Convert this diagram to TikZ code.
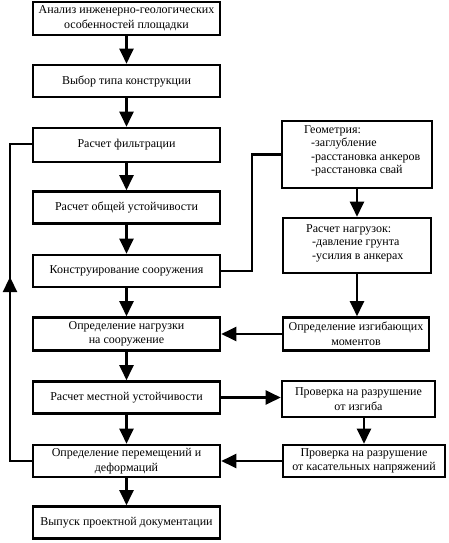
\documentclass[tikz,border=0pt]{standalone}
\usepackage{fontspec}
\setmainfont{Liberation Serif}
\usetikzlibrary{arrows.meta}
\begin{document}
\begin{tikzpicture}[x=1pt,y=-1pt,
  box/.style={draw, line width=2.6pt, minimum width=187pt, minimum height=32pt, align=center, inner sep=1pt, font=\fontsize{12}{14.5}\selectfont},
  rbox/.style={draw, line width=2.6pt, inner sep=0pt},
  txt/.style={align=left, inner sep=0pt, anchor=north west, font=\fontsize{12}{13.5}\selectfont},
  ln/.style={line width=2.3pt},
  arr/.style={line width=2.3pt, -{Triangle[length=15pt,width=14pt]}}]
\useasboundingbox (0,0) rectangle (448,543);
% left column
\node[box, minimum height=33pt] (b1) at (126.5,18.5) {Анализ инженерно-геологических\\особенностей площадки};
\node[box] (b2) at (126.5,81) {Выбор типа конструкции};
\node[box, minimum height=34pt] (b3) at (126.5,145) {Расчет фильтрации};
\node[box] (b4) at (126.5,207.5) {Расчет общей устойчивости};
\node[box] (b5) at (126.5,271) {Конструирование сооружения};
\node[box, minimum height=33pt] (b6) at (126.5,334) {Определение нагрузки\\на сооружение};
\node[box] (b7) at (126.5,397.5) {Расчет местной устойчивости};
\node[box] (b8) at (126.5,461) {Определение перемещений и\\деформаций};
\node[box] (b9) at (126.5,522.5) {Выпуск проектной документации};
% right column
\node[rbox, minimum width=150pt, minimum height=67pt] (G) at (357,154.5) {};
\node[txt] (Gt) at (304,125) {Геометрия:\\\hspace*{7pt}-заглубление\\\hspace*{7pt}-расстановка анкеров\\\hspace*{7pt}-расстановка свай};
\node[rbox, minimum width=148pt, minimum height=55pt] (N) at (357,245.5) {};
\node[txt] (Nt) at (306,224) {Расчет нагрузок:\\\hspace*{6pt}-давление грунта\\\hspace*{6pt}-усилия в анкерах};
\node[box, minimum width=146pt, minimum height=33pt] (M) at (356,334) {Определение изгибающих\\моментов};
\node[box, minimum width=153pt, minimum height=36pt] (I) at (358.5,399) {Проверка на разрушение\\от изгиба};
\node[box, minimum width=162pt, minimum height=32pt] (K) at (364,461) {Проверка на разрушение\\от касательных напряжений};
% vertical arrows left
\foreach \a/\b in {b1/b2,b2/b3,b3/b4,b4/b5,b5/b6,b6/b7,b7/b8,b8/b9}
  \draw[arr] (\a.south) -- (\b.north);
% right connections
\coordinate (c1) at (252,271);
\draw[ln] (b5.east) -- (c1) |- (G.west);
\draw[arr] (G.south) -- (N.north);
\draw[arr] (N.south) -- (N.south |- M.north);
\draw[arr] (M.west) -- (b6.east);
\draw[arr] (b7.east) -- (b7.east -| I.west);
\draw[arr] (K.north |- I.south) -- (K.north);
\draw[arr] (K.west) -- (b8.east);
% feedback
\coordinate (f1) at (10,461);
\coordinate (f2) at (10,144);
\coordinate (fa) at (10,277);
\draw[ln] (b8.west) -- (f1) -- (f2) -- (f2 -| b3.west);
\draw[arr] (f1) -- (fa);
\end{tikzpicture}
\end{document}
